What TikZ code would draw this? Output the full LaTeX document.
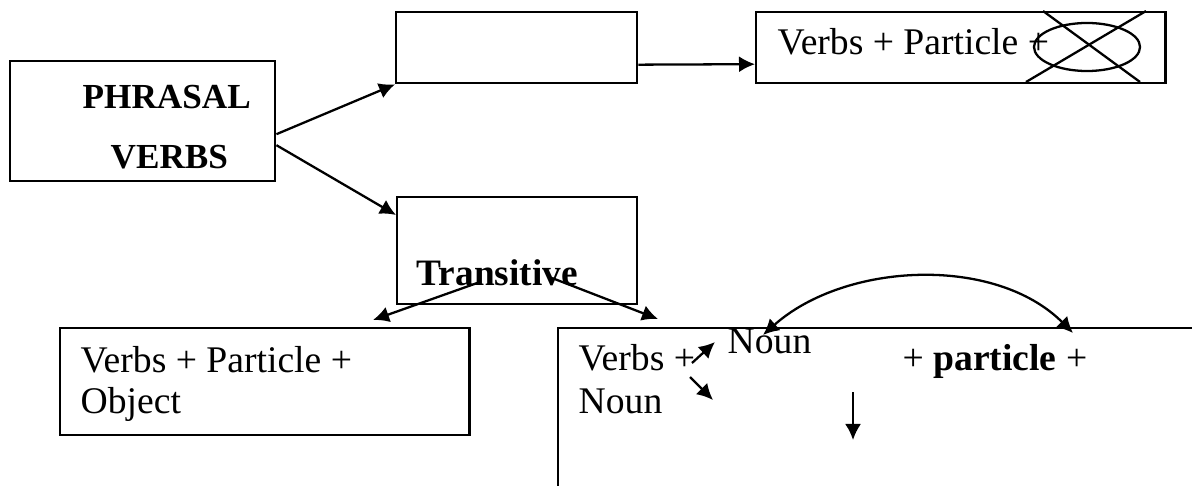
\documentclass[tikz,border=0pt]{standalone}
\usepackage{fontspec}
\setmainfont{Liberation Serif}
\usetikzlibrary{arrows.meta,positioning,shapes.geometric}
\tikzset{
  block/.style={rectangle, draw, line width=0.65pt, anchor=north west, inner sep=0pt},
  line/.style={-{Latex[length=1.6mm,width=1.6mm]}, line width=0.65pt},
  txt/.style={inner sep=0pt, anchor=base west, font=\fontsize{10.7}{12}\selectfont}
}

\begin{document}
\begin{tikzpicture}[x=0.01cm, y=-0.01cm]
  \useasboundingbox (0,0) rectangle (1192,485);
  \clip (0,0) rectangle (1192,485);
  % boxes
  \node[block, minimum width=2.65cm, minimum height=1.2cm] (phrasal) at (9,60) {};
  \node[block, minimum width=2.41cm, minimum height=0.71cm] (upper) at (395,11) {};
  \node[block, minimum width=4.09cm, minimum height=0.71cm] (result) at (755,11) {};
  \node[block, minimum width=2.40cm, minimum height=1.07cm] (trans) at (396,196) {};
  \node[block, minimum width=4.09cm, minimum height=1.07cm] (object) at (59,327) {};
  \node[block, minimum width=7.0cm, minimum height=2.5cm] (split) at (557,327) {};
  % texts
  \node[txt, font=\fontsize{10}{12}\selectfont\bfseries] (phr1) at (82,109) {PHRASAL};
  \node[txt, font=\fontsize{10}{12}\selectfont\bfseries] (phr2) at (110,168) {VERBS};
  \node[txt] (res) at (777,55) {Verbs + Particle +};
  \node[txt, font=\fontsize{10.6}{12}\selectfont\bfseries] (translbl) at (416,285) {Transitive};
  \node[txt] (obj1) at (80,372) {Verbs + Particle +};
  \node[txt] (obj2) at (80,413) {Object};
  \node[txt] (verbs) at (578,370) {Verbs +};
  \node[txt] (noun) at (578,413) {Noun};
  \node[txt] (nounup) at (727,353) {Noun};
  \node[txt] (part) at (902,370) {+ \textbf{particle} +};
  % crossed ellipse
  \node[ellipse, draw, line width=0.65pt, minimum width=1.06cm, minimum height=0.48cm, inner sep=0pt] (cross) at (1087,47) {};
  \draw[line width=0.65pt] (1043,11) -- (1140,82);
  \draw[line width=0.65pt] (1146,11) -- (1026,82);
  % end points
  \coordinate (t1) at (480,282);
  \coordinate (t2) at (552,278);
  \coordinate (objtip) at (373,320);
  \coordinate (splittip) at (658,319);
  \coordinate (v1) at (692,363);
  \coordinate (v1tip) at (715,342);
  \coordinate (v2) at (690,377);
  \coordinate (v2tip) at (713,400);
  \coordinate (d1) at (853,392);
  \coordinate (d2) at (853,440);
  \coordinate (nountip) at (763,335);
  \coordinate (parttip) at (1073,333);
  % arrows
  \draw[line] ([yshift=-0.13cm]phrasal.east) -- (upper.south west);
  \draw[line] ([yshift=-0.24cm]phrasal.east) -- ([yshift=-0.19cm]trans.north west);
  \draw[line] ([yshift=-0.17cm]upper.east) -- ([yshift=-0.165cm]result.west);
  \draw[line] (t1) -- (objtip);
  \draw[line] (t2) -- (splittip);
  \draw[line] (v1) -- (v1tip);
  \draw[line] (v2) -- (v2tip);
  \draw[line] (d1) -- (d2);
  \draw[line, {Latex[length=1.6mm,width=1.6mm]}-{Latex[length=1.6mm,width=1.6mm]}]
    (nountip) .. controls (845,262) and (995,255) .. (parttip);
\end{tikzpicture}
\end{document}
